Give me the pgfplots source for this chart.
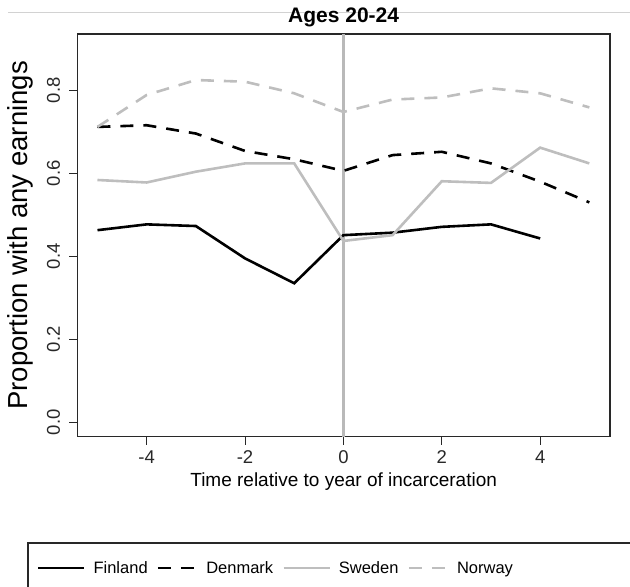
\documentclass[border=0pt]{standalone}
\usepackage{pgfplots}
\pgfplotsset{compat=1.18}
\usepackage{fontspec}
\setmainfont{Liberation Sans}
\definecolor{lgray}{RGB}{190,190,190}
\definecolor{vgray}{RGB}{185,185,185}
\definecolor{boxc}{RGB}{40,40,40}
\pgfplotsset{shortleg/.style={legend image code/.code={\draw[##1] (0bp,0bp) -- (39bp,0bp);}}}
\begin{document}
\begin{tikzpicture}[x=1bp,y=1bp]
\path[use as bounding box] (0,0) rectangle (630,-587);
\begin{scope}
\clip (0,0) rectangle (630,-587);
\draw[color={rgb,255:red,210;green,210;blue,210}, line width=0.8bp] (8,-12.3) -- (630,-12.3);
\begin{axis}[
  at={(77.3bp,-436.7bp)}, anchor=south west,
  scale only axis, width=532.7bp, height=402.7bp,
  xmin=-5.41, xmax=5.42, ymin=-0.035, ymax=0.936,
  axis line style={boxc, line width=1.5bp},
  xtick={-4,-2,0,2,4}, xticklabels={-4,-2,0,2,4},
  ytick={0,0.2,0.4,0.6,0.8}, yticklabels={0.0,0.2,0.4,0.6,0.8},
  tick align=outside, xtick pos=lower, ytick pos=left,
  major tick length=8bp,
  tick style={boxc, line width=1bp},
  ticklabel style={font=\fontsize{18.5bp}{21bp}\selectfont, text=boxc},
  xticklabel style={inner ysep=6bp},
  yticklabel style={rotate=90, anchor=south, inner ysep=9bp},
  title={Ages 20-24},
  title style={at={(axis description cs:0.5,1.0149)}, anchor=base, font=\fontsize{21bp}{24bp}\selectfont\bfseries, inner sep=0pt},
  xlabel={Time relative to year of incarceration},
  xlabel style={at={(axis description cs:0.5,-0.1242)}, anchor=base, font=\fontsize{19bp}{22bp}\selectfont, inner sep=0pt},
  ylabel={Proportion with any earnings},
  ylabel style={at={(axis description cs:-0.0926,0.5)}, anchor=base, font=\fontsize{27.5bp}{30bp}\selectfont, inner sep=0pt},
  legend columns=4,
  legend cell align=left,
  legend image code/.code={\draw[#1] (0bp,0bp) -- (46bp,0bp);},
  legend style={at={(axis description cs:-0.0757,-0.326)}, anchor=west, draw=none, fill=none,
     inner sep=0pt, outer sep=0pt, font=\fontsize{16.5bp}{20bp}\selectfont,
     nodes={inner xsep=0pt, text height=12bp, text depth=0pt},
     /tikz/every odd column/.append style={column sep=8bp},
     /tikz/every even column/.append style={column sep=9bp}},
]
\addplot[vgray, line width=2.4bp, forget plot] coordinates {(0,-0.035) (0,0.936)};
\addplot[black, line width=2.6bp] coordinates {
(-5,0.463) (-4,0.477) (-3,0.473) (-2,0.395) (-1,0.335) (0,0.451) (1,0.457) (2,0.471) (3,0.477) (4,0.443)};
\addlegendentry{Finland}
\addplot[black, line width=2.6bp, dash pattern=on 13bp off 10bp, shortleg] coordinates {
(-5,0.712) (-4,0.716) (-3,0.696) (-2,0.654) (-1,0.634) (0,0.606) (1,0.644) (2,0.652) (3,0.624) (4,0.580) (5,0.530)};
\addlegendentry{Denmark}
\addplot[lgray, line width=2.6bp] coordinates {
(-5,0.584) (-4,0.578) (-3,0.604) (-2,0.624) (-1,0.624) (0,0.437) (1,0.451) (2,0.581) (3,0.577) (4,0.662) (5,0.624)};
\addlegendentry{Sweden}
\addplot[lgray, line width=2.6bp, dash pattern=on 13bp off 10bp, shortleg] coordinates {
(-5,0.712) (-4,0.789) (-3,0.825) (-2,0.821) (-1,0.793) (0,0.748) (1,0.778) (2,0.783) (3,0.805) (4,0.793) (5,0.759)};
\addlegendentry{Norway}
\end{axis}
\draw[boxc, line width=1.3bp] (28,-543) rectangle (660,-620);
\end{scope}
\end{tikzpicture}
\end{document}
